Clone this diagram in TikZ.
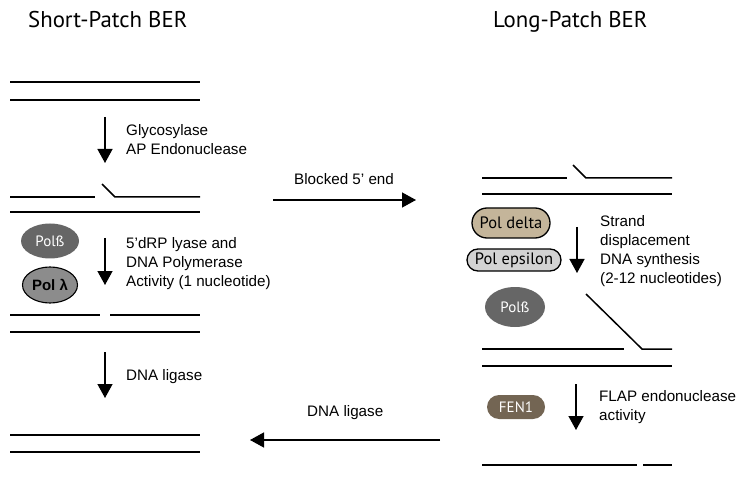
\documentclass[tikz,border=0pt]{standalone}
\usepackage{fontspec}
\setmainfont{Liberation Sans}
\newfontfamily\titlefont{PT Sans}
\usetikzlibrary{arrows.meta,shapes.geometric,shapes.misc}

\definecolor{polbeta}{RGB}{102,102,102}
\definecolor{pollambda}{RGB}{140,140,140}
\definecolor{poldelta}{RGB}{196,181,154}
\definecolor{polepsilon}{RGB}{211,211,211}
\definecolor{fenbrown}{RGB}{115,101,83}

\tikzset{
	strand/.style={line width=1.5pt},
	steparrow/.style={line width=1.4pt,-{Triangle[length=14pt,width=15pt]}},
	lbl/.style={anchor=north west,inner sep=0pt,align=left,font=\fontsize{15.2}{19}\selectfont},
	title/.style={anchor=north west,inner sep=0pt,font=\titlefont\fontsize{22.8}{27}\selectfont},
	enzyme/.style={ellipse,inner sep=0pt,font=\titlefont\fontsize{15}{17}\selectfont},
	pill/.style={rounded rectangle,inner sep=0pt,font=\titlefont\fontsize{16.5}{18}\selectfont}
}

\begin{document}
\begin{tikzpicture}[x=1pt,y=-1pt]
		\useasboundingbox (0,0) rectangle (741,478);

		% titles
		\node[title] (sptitle) at (28,11) {Short-Patch BER};
		\node[title] (lptitle) at (493,11) {Long-Patch BER};

		% short patch, step 1
		\draw[strand] (10,82) -- (200,82);
		\draw[strand] (10,100) -- (200,100);
		\coordinate (s1top) at (105,117);
		\coordinate (s1bot) at (105,163);
		\draw[steparrow] (s1top) -- (s1bot);
		\node[lbl] (glyco) at (126,124) {Glycosylase\\AP Endonuclease};

		% short patch, step 2
		\draw[strand] (10,197) -- (95,197);
		\draw[strand] (102,184) -- (115,197) -- (200,197);
		\draw[strand] (10,212) -- (200,212);
		\node[enzyme,fill=polbeta,text=white,minimum width=58pt,minimum height=35pt] (polb) at (50,241) {Polß};
		\node[enzyme,draw=black,line width=1.1pt,fill=pollambda,minimum width=55pt,minimum height=36pt,font=\bfseries\fontsize{15}{17}\selectfont] (poll) at (50,285) {Pol λ};
		\coordinate (s2top) at (105,238);
		\coordinate (s2bot) at (105,285);
		\draw[steparrow] (s2top) -- (s2bot);
		\node[lbl] (lyase) at (126,237) {5’dRP lyase and\\DNA Polymerase\\Activity (1 nucleotide)};

		% short patch, step 3
		\draw[strand] (10,315) -- (100,315);
		\draw[strand] (110,315) -- (200,315);
		\draw[strand] (10,332) -- (200,332);
		\coordinate (s3top) at (105,352);
		\coordinate (s3bot) at (105,398);
		\draw[steparrow] (s3top) -- (s3bot);
		\node[lbl] (ligl) at (126,369) {DNA ligase};

		% short patch, repaired
		\draw[strand] (10,435) -- (200,435);
		\draw[strand] (10,452) -- (200,452);

		% switch to long patch
		\coordinate (blkstart) at (273,200);
		\coordinate (blkend) at (416,200);
		\draw[steparrow] (blkstart) -- (blkend);
		\node[lbl] (blocked) at (294,173) {Blocked 5’ end};

		% long patch, step 1
		\draw[strand] (482,178) -- (567,178);
		\draw[strand] (573,165) -- (586,178) -- (672,178);
		\draw[strand] (482,194) -- (672,194);
		\node[pill,draw=black,line width=1.3pt,fill=poldelta,minimum width=78pt,minimum height=30pt] (pold) at (511,223) {Pol delta};
		\node[pill,draw=black,line width=1.3pt,fill=polepsilon,minimum width=94pt,minimum height=22pt] (pole) at (514,260) {Pol epsilon};
		\coordinate (l1top) at (577,227);
		\coordinate (l1bot) at (577,273);
		\draw[steparrow] (l1top) -- (l1bot);
		\node[lbl] (strand) at (600,215) {Strand\\displacement\\DNA synthesis\\(2-12 nucleotides)};

		% long patch, step 2
		\node[enzyme,fill=polbeta,text=white,minimum width=60pt,minimum height=40pt] (polbr) at (515,307) {Polß};
		\draw[strand] (482,349) -- (624,349);
		\draw[strand] (586,294) -- (642,349) -- (672,349);
		\draw[strand] (482,366) -- (672,366);
		\node[pill,fill=fenbrown,text=white,minimum width=58pt,minimum height=24pt,font=\titlefont\fontsize{15}{17}\selectfont] (fen) at (516,407) {FEN1};
		\coordinate (l2top) at (576,384);
		\coordinate (l2bot) at (576,430);
		\draw[steparrow] (l2top) -- (l2bot);
		\node[lbl] (flap) at (599,390) {FLAP endonuclease\\activity};

		% long patch, product
		\draw[strand] (482,465) -- (637,465);
		\draw[strand] (643,465) -- (672,465);

		% back to ligation
		\coordinate (ligstart) at (440,440);
		\coordinate (ligend) at (250,440);
		\draw[steparrow] (ligstart) -- (ligend);
		\node[lbl] (ligb) at (307,405) {DNA ligase};
	\end{tikzpicture}
\end{document}
